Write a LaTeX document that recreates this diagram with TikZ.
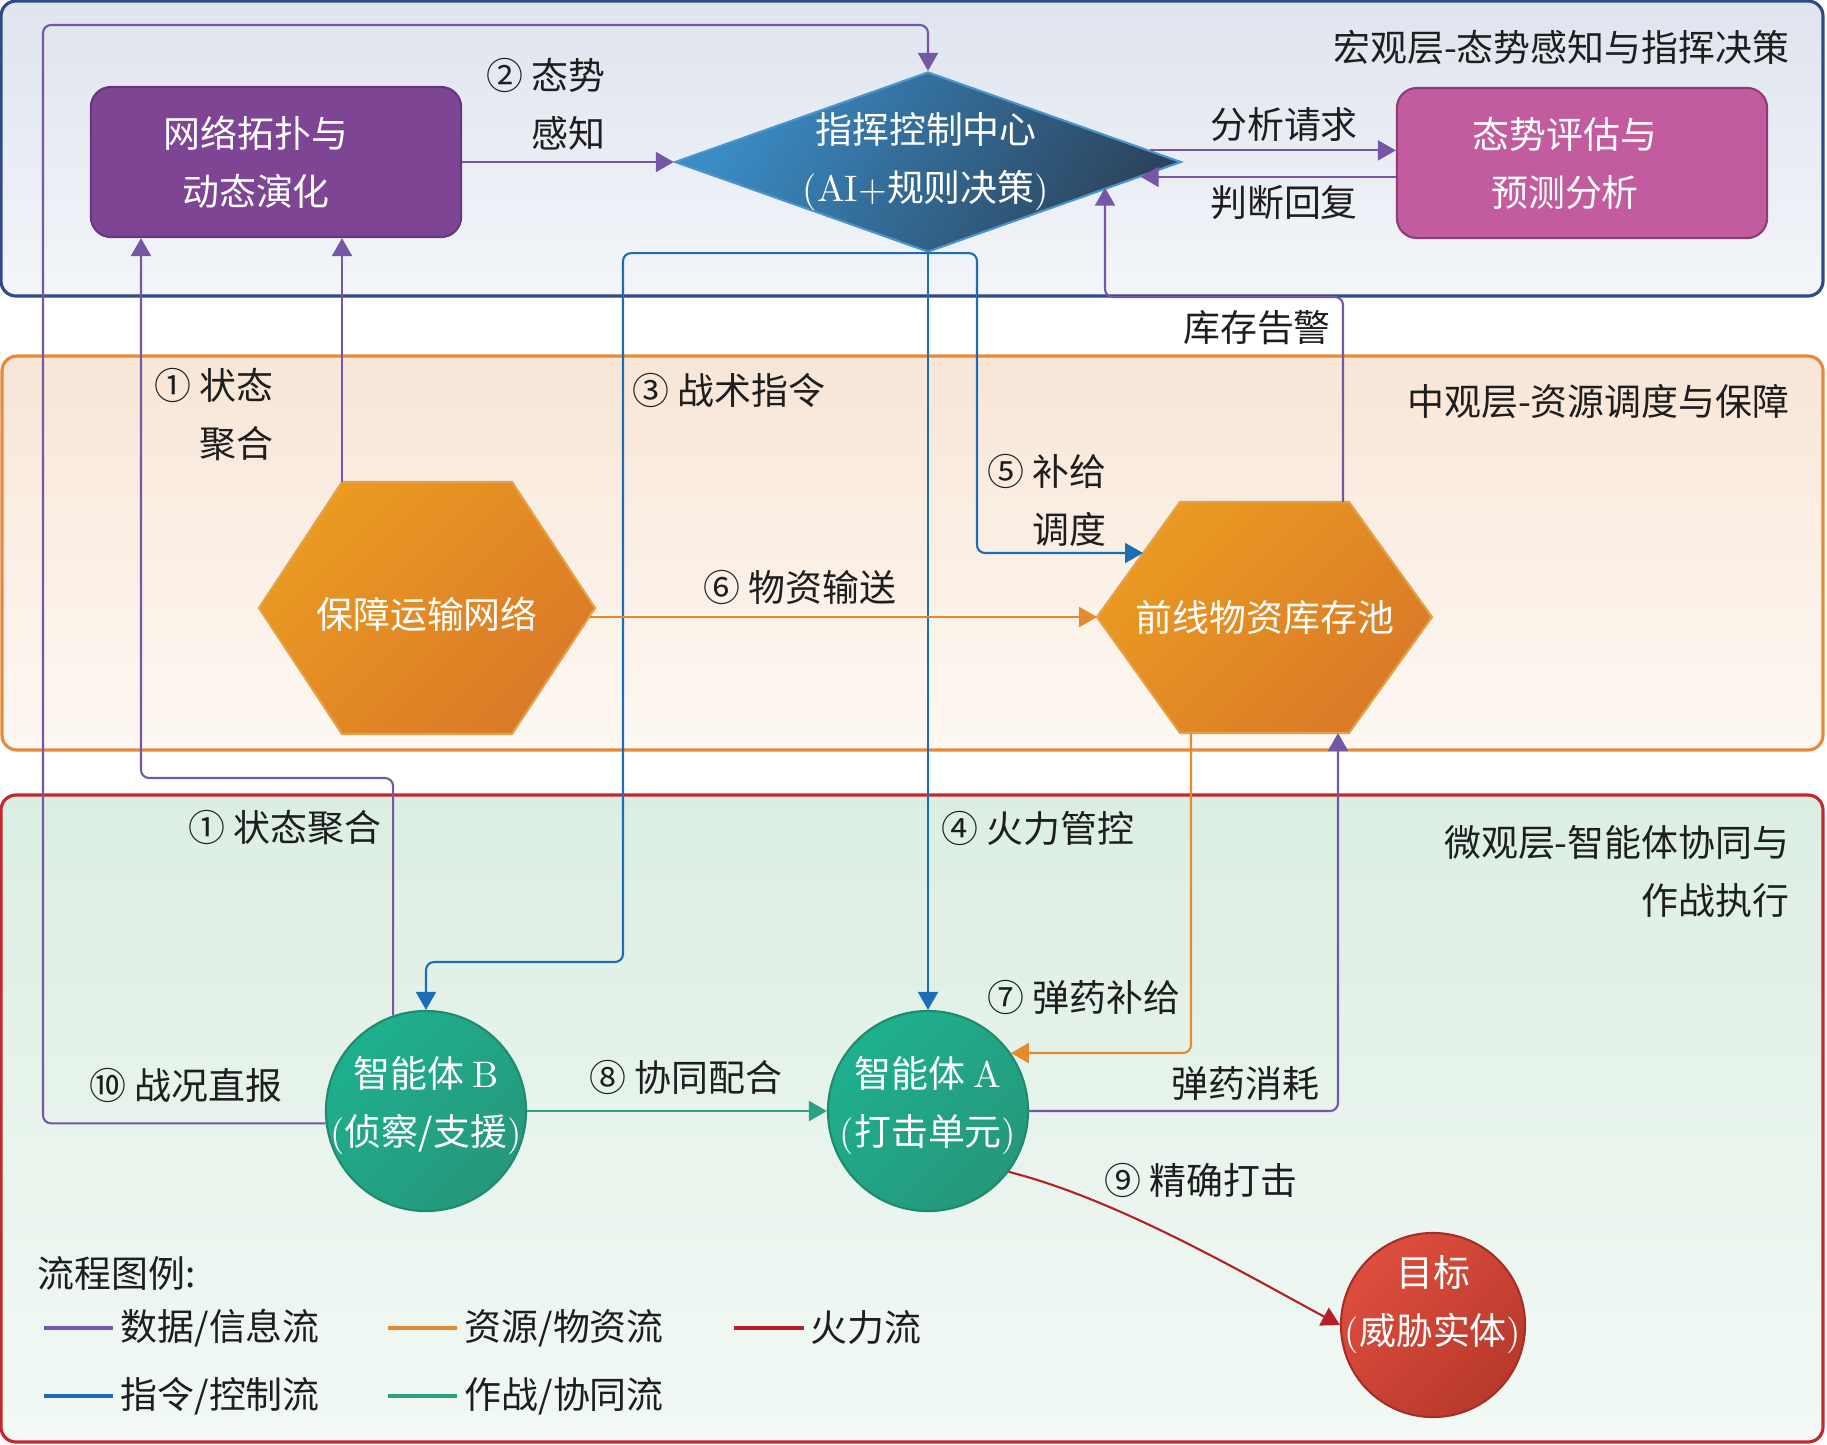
\documentclass[tikz,border=0pt]{standalone}
\usepackage{fontspec}
\newfontfamily\cjk{Noto Sans CJK SC}
\usetikzlibrary{shapes.geometric,arrows.meta}
\definecolor{cdata}{HTML}{7457A5}
\definecolor{ccmd}{HTML}{1C6DB5}
\definecolor{cres}{HTML}{E68A2E}
\definecolor{ccoop}{HTML}{2BA383}
\definecolor{cfire}{HTML}{B3202A}
\definecolor{macE}{HTML}{2E4B85}
\definecolor{macA}{HTML}{DFE4EE}
\definecolor{macB}{HTML}{F3F5F9}
\definecolor{mesE}{HTML}{E68A3A}
\definecolor{mesA}{HTML}{F8E6D7}
\definecolor{mesB}{HTML}{FDF8F3}
\definecolor{micE}{HTML}{C4282D}
\definecolor{micA}{HTML}{DCEEE3}
\definecolor{micB}{HTML}{F2F9F5}
\definecolor{ntF}{HTML}{7E4594}
\definecolor{ntE}{HTML}{69357E}
\definecolor{paF}{HTML}{C35C9E}
\definecolor{paE}{HTML}{8C3D75}
\definecolor{ccA}{HTML}{3A8CC6}
\definecolor{ccB}{HTML}{2C455E}
\definecolor{ccE}{HTML}{4A95CC}
\definecolor{hxA}{HTML}{EA9A22}
\definecolor{hxB}{HTML}{DA7A28}
\definecolor{hxE}{HTML}{E3A24A}
\definecolor{agA}{HTML}{1EB08E}
\definecolor{agB}{HTML}{26977B}
\definecolor{agE}{HTML}{1E8A6E}
\definecolor{tgA}{HTML}{DE4E3E}
\definecolor{tgB}{HTML}{B8392B}
\definecolor{tgE}{HTML}{A52F28}
\definecolor{ink}{HTML}{1E1E1E}
\newcommand\lat[1]{{\rmfamily #1}}
\begin{document}
\begin{tikzpicture}[x=0.01cm,y=-0.01cm,
  txt/.style={font=\cjk\fontsize{10.5pt}{16.5pt}\selectfont, text=ink, inner sep=0pt},
  wtxt/.style={txt,text=white},
  layer/.style={line width=0.9pt, rounded corners=0.15cm},
  conn/.style={line width=0.6pt, rounded corners=0.08cm, -{Triangle[length=1.8mm,width=2mm]}},
  dataf/.style={conn,draw=cdata},
  cmdf/.style={conn,draw=ccmd},
  resf/.style={conn,draw=cres},
  coopf/.style={conn,draw=ccoop},
  firef/.style={conn,draw=cfire},
  agent/.style={circle, minimum size=2cm, inner sep=0pt, draw=agE, line width=0.6pt, top color=agA, bottom color=agB, shading angle=45},
  box/.style={rectangle, rounded corners=0.2cm, minimum width=3.7cm, minimum height=1.5cm, line width=0.6pt, inner sep=0pt},
  hexs/.style={draw=hxE, line width=0.6pt, top color=hxA, bottom color=hxB, shading angle=45},
  legline/.style={line width=1.3pt}
]
\useasboundingbox (0,0) rectangle (1827,1444);

% layers
\path[layer, draw=macE, top color=macA, bottom color=macB] (1,1) rectangle (1823,296);
\path[layer, draw=mesE, top color=mesA, bottom color=mesB] (2,356) rectangle (1823,750);
\path[layer, draw=micE, top color=micA, bottom color=micB] (1,795) rectangle (1823,1442);

\node[txt, anchor=east] (tmac) at (1790,47) {宏观层-态势感知与指挥决策};
\node[txt, anchor=east] (tmes) at (1790,402) {中观层-资源调度与保障};
\node[txt, anchor=east, align=right] (tmic) at (1790,871) {微观层-智能体协同与\\作战执行};

% macro nodes
\node[box, draw=ntE, fill=ntF] (nt) at (276,162) {};
\node[wtxt, align=center] (ntt) at (256,162) {网络拓扑与\\动态演化};
\node[box, draw=paE, fill=paF] (pa) at (1582,163) {};
\node[wtxt, align=center] (pat) at (1565,163) {态势评估与\\预测分析};
\node[diamond, minimum width=5.06cm, minimum height=1.8cm, inner sep=0pt, draw=ccE, line width=0.6pt, top color=ccA, bottom color=ccB, shading angle=60] (cc) at (928,162) {};
\node[wtxt, align=center] (cct) at (926,162) {指挥控制中心\\\lat{(AI+}规则决策\lat{)}};

% meso hexagons
\path[hexs] (259,608) -- (342,482) -- (512,482) -- (595,608) -- (512,734) -- (342,734) -- cycle;
\path[hexs] (1097,617) -- (1180,502) -- (1349,502) -- (1432,617) -- (1349,733) -- (1180,733) -- cycle;
\node[wtxt] (hx1) at (427,614) {保障运输网络};
\node[wtxt] (hx2) at (1265,617) {前线物资库存池};
\coordinate (h1tl) at (342,482);
\coordinate (h1a) at (590,617);
\coordinate (h2l) at (1097,617);
\coordinate (h2e) at (1143,553);
\coordinate (h2b7) at (1191,733);
\coordinate (h2bb) at (1338,733);
\coordinate (h2t) at (1343,502);

% micro nodes
\node[agent] (B) at (426,1111) {};
\node[wtxt, align=center] (Bt) at (426,1106) {智能体 \lat{B}\\\lat{(}侦察/支援\lat{)}};
\node[agent] (A) at (928,1111) {};
\node[wtxt, align=center] (At) at (928,1106) {智能体 \lat{A}\\\lat{(}打击单元\lat{)}};
\node[circle, minimum size=1.84cm, inner sep=0pt, draw=tgE, line width=0.6pt, top color=tgA, bottom color=tgB, shading angle=45] (T) at (1433,1325) {};
\node[wtxt, align=center] (Tt) at (1433,1305) {目标\\\lat{(}威胁实体\lat{)}};

% bend points
\coordinate (k1) at (141,778);
\coordinate (k10) at (43,25);
\coordinate (k3) at (623,962);
\coordinate (k5) at (977,553);
\coordinate (k8) at (1105,297);

% connectors
\draw[dataf] (nt.east) -- (cc.west);
\draw[dataf] (cc.3) -- (cc.3 -| pa.west);
\draw[dataf] (pa.west |- cc.-4) -- (cc.-4);
\draw[dataf] (h1tl) -- (h1tl |- nt.south);
\draw[dataf] (B.109) |- (k1) -- (k1 |- nt.south);
\draw[dataf] (B.187) -| (k10) -| (cc.north);
\draw[cmdf] (cc.south) -| (k3) -| (B.north);
\draw[cmdf] (cc.south) -- (A.north);
\draw[cmdf] (cc.south) -| (k5) -- (h2e);
\draw[resf] (h1a) -- (h2l);
\draw[resf] (h2b7) |- (A.35);
\draw[dataf] (A.east) -| (h2bb);
\draw[dataf] (h2t) |- (k8) -- (k8 |- cc.-8.7);
\draw[coopf] (B.east) -- (A.west);
\draw[firef] (A.-37) .. controls (1120,1200) and (1250,1277) .. (T.west);

% labels
\node[txt, anchor=east, align=right] (l2) at (606,104) {② 态势\\感知};
\node[txt] (lq) at (1284,125) {分析请求};
\node[txt] (lr) at (1284,203) {判断回复};
\node[txt] (lku) at (1257,328) {库存告警};
\node[txt, anchor=east, align=right] (l1a) at (274,415) {① 状态\\聚合};
\node[txt, anchor=west] (l3) at (632,390) {③ 战术指令};
\node[txt, anchor=east, align=right] (l5) at (1107,500) {⑤ 补给\\调度};
\node[txt] (l6) at (800,587) {⑥ 物资输送};
\node[txt, anchor=east] (l1b) at (382,828) {① 状态聚合};
\node[txt, anchor=west] (l4) at (941,828) {④ 火力管控};
\node[txt, anchor=east] (l7) at (1181,997) {⑦ 弹药补给};
\node[txt] (l10) at (186,1085) {⑩ 战况直报};
\node[txt] (l8) at (686,1077) {⑧ 协同配合};
\node[txt, anchor=east] (lxh) at (1320,1083) {弹药消耗};
\node[txt] (l9) at (1201,1180) {⑨ 精确打击};

% legend
\node[txt, anchor=west] (lg) at (37,1273) {流程图例:};
\coordinate (g1a) at (44,1328); \coordinate (g1b) at (113,1328);
\coordinate (g2a) at (388,1328); \coordinate (g2b) at (457,1328);
\coordinate (g3a) at (734,1328); \coordinate (g3b) at (804,1328);
\coordinate (g4a) at (44,1396); \coordinate (g4b) at (113,1396);
\coordinate (g5a) at (388,1396); \coordinate (g5b) at (457,1396);
\draw[legline, cdata] (g1a) -- (g1b);
\draw[legline, cres] (g2a) -- (g2b);
\draw[legline, cfire] (g3a) -- (g3b);
\draw[legline, ccmd] (g4a) -- (g4b);
\draw[legline, ccoop] (g5a) -- (g5b);
\node[txt, anchor=west] (lg1) at (120,1328) {数据/信息流};
\node[txt, anchor=west] (lg2) at (464,1328) {资源/物资流};
\node[txt, anchor=west] (lg3) at (810,1328) {火力流};
\node[txt, anchor=west] (lg4) at (120,1396) {指令/控制流};
\node[txt, anchor=west] (lg5) at (464,1396) {作战/协同流};
\end{tikzpicture}
\end{document}
